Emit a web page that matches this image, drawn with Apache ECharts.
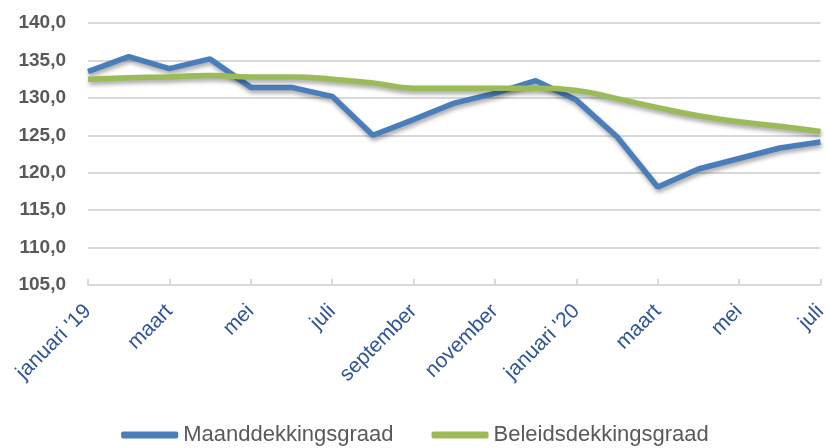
<!DOCTYPE html>
<html>
<head>
<meta charset="utf-8">
<script src="https://cdn.jsdelivr.net/npm/echarts@6/dist/echarts.min.js"></script>
<style>
  html, body { margin: 0; padding: 0; background: #fff; }
  #chart { width: 830px; height: 448px; }
</style>
</head>
<body>
<div id="chart"></div>
<script>
var months = [
  "januari '19", 'februari', 'maart', 'april', 'mei', 'juni', 'juli', 'augustus',
  'september', 'oktober', 'november', 'december', "januari '20", 'februari',
  'maart', 'april', 'mei', 'juni', 'juli'
];
var maanddekkingsgraad = [
  133.5, 135.5, 133.9, 135.2, 131.4, 131.4, 130.2, 125.0, 127.1, 129.3,
  130.6, 132.3, 129.7, 124.8, 118.1, 120.5, 121.9, 123.3, 124.1
];
var beleidsdekkingsgraad = [
  132.5, 132.7, 132.8, 133.0, 132.8, 132.8, 132.5, 132.0, 131.3, 131.3,
  131.3, 131.3, 131.0, 129.9, 128.7, 127.6, 126.8, 126.2, 125.5
];

var lineShadow = {
  shadowColor: 'rgba(0,0,0,0.35)',
  shadowBlur: 4,
  shadowOffsetX: 1,
  shadowOffsetY: 3
};

var option = {
  animation: false,
  backgroundColor: '#fff',
  grid: { left: 88, right: 6, top: 23, bottom: 163 },
  legend: {
    top: 419,
    left: 'center',
    icon: 'roundRect',
    itemWidth: 57,
    itemHeight: 7,
    itemGap: 38,
    textStyle: {
      fontFamily: 'Liberation Sans, sans-serif',
      fontSize: 22,
      color: '#595959'
    },
    data: ['Maanddekkingsgraad', 'Beleidsdekkingsgraad']
  },
  xAxis: {
    type: 'category',
    boundaryGap: false,
    data: months,
    axisLine: { lineStyle: { color: '#d9d9d9', width: 2 } },
    axisTick: { inside: true, length: 6, lineStyle: { color: '#d9d9d9', width: 2 } },
    axisLabel: {
      interval: 1,
      rotate: 45,
      margin: 23,
      color: '#2f5597',
      fontFamily: 'Liberation Sans, sans-serif',
      fontSize: 21
    },
    splitLine: { show: false }
  },
  yAxis: {
    type: 'value',
    min: 105,
    max: 140,
    interval: 5,
    axisLine: { show: false },
    axisTick: { show: false },
    axisLabel: {
      margin: 22,
      color: '#595959',
      fontWeight: 'bold',
      fontFamily: 'Liberation Sans, sans-serif',
      fontSize: 19,
      formatter: function (v) { return v.toFixed(1).replace('.', ','); }
    },
    splitLine: { lineStyle: { color: '#d9d9d9', width: 2 } }
  },
  series: [
    {
      name: 'Maanddekkingsgraad',
      type: 'line',
      data: maanddekkingsgraad,
      showSymbol: false,
      color: '#4a7ebb',
      lineStyle: Object.assign({ width: 5.5, color: '#4a7ebb' }, lineShadow),
      z: 3
    },
    {
      name: 'Beleidsdekkingsgraad',
      type: 'line',
      data: beleidsdekkingsgraad,
      showSymbol: false,
      smooth: true,
      color: '#9bbb59',
      lineStyle: Object.assign({ width: 5.5, color: '#9bbb59' }, lineShadow),
      z: 4
    }
  ]
};

var chart = echarts.init(document.getElementById('chart'));
chart.setOption(option);
</script>
</body>
</html>
